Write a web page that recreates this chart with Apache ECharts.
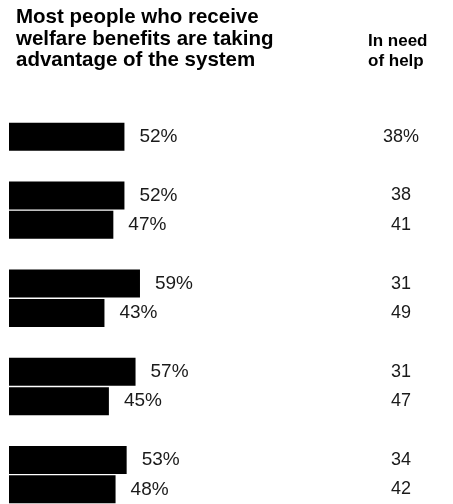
<!DOCTYPE html>
<html>
<head>
<meta charset="utf-8">
<script src="https://cdn.jsdelivr.net/npm/echarts@6/dist/echarts.min.js"></script>
<style>
html,body{margin:0;padding:0;background:#fff;}
#chart{width:453px;height:504px;}
</style>
</head>
<body>
<div id="chart"></div>
<script>
// Row slots (gaps between groups are empty slots)
const rows = ['r1', 'gap1', 'r2a', 'r2b', 'gap2', 'r3a', 'r3b', 'gap3', 'r4a', 'r4b', 'gap4', 'r5a', 'r5b'];
// "Most people who receive welfare benefits are taking advantage of the system" (%)
const takingAdvantage = [52, null, 52, 47, null, 59, 43, null, 57, 45, null, 53, 48];
// "In need of help" (%)
const inNeed = [38, null, 38, 41, null, 31, 49, null, 31, 47, null, 34, 42];

const leftTitle = 'Most people who receive\nwelfare benefits are taking\nadvantage of the system';
const rightTitle = 'In need\nof help';

const FONT = '"Liberation Sans", Arial, Helvetica, sans-serif';

const chart = echarts.init(document.getElementById('chart'), null, {renderer: 'canvas'});
chart.setOption({
  animation: false,
  backgroundColor: '#ffffff',
  title: [
    {
      text: leftTitle,
      left: 16, top: 7, padding: 0,
      textStyle: {fontFamily: FONT, fontWeight: 'bold', fontSize: 20.5, lineHeight: 21.5, color: '#000'}
    },
    {
      text: rightTitle,
      left: 368, top: 31, padding: 0,
      textStyle: {fontFamily: FONT, fontWeight: 'bold', fontSize: 17, lineHeight: 20.5, color: '#000'}
    }
  ],
  grid: {left: 9, top: 122, width: 222, height: 383, containLabel: false},
  xAxis: {
    type: 'value', min: 0, max: 100, show: false
  },
  yAxis: [
    {
      type: 'category', data: rows, inverse: true,
      axisLine: {show: false}, axisTick: {show: false}, axisLabel: {show: false}, splitLine: {show: false}
    },
    {
      type: 'category', data: inNeed.map(v => v == null ? '' : String(v)), inverse: true, position: 'right',
      axisLine: {show: false}, axisTick: {show: false}, splitLine: {show: false},
      axisLabel: {
        show: true, margin: 170, align: 'center',
        fontFamily: FONT, fontSize: 18, color: '#1a1a1a',
        formatter: (v, i) => (v === '' ? '' : (i === 0 ? v + '%' : v))
      }
    }
  ],
  series: [{
    type: 'bar',
    data: takingAdvantage,
    barWidth: 28,
    itemStyle: {color: '#000'},
    label: {
      show: true, position: 'right', distance: 15,
      fontFamily: FONT, fontSize: 19, color: '#1a1a1a',
      formatter: p => p.value + '%'
    }
  }]
});
</script>
</body>
</html>
